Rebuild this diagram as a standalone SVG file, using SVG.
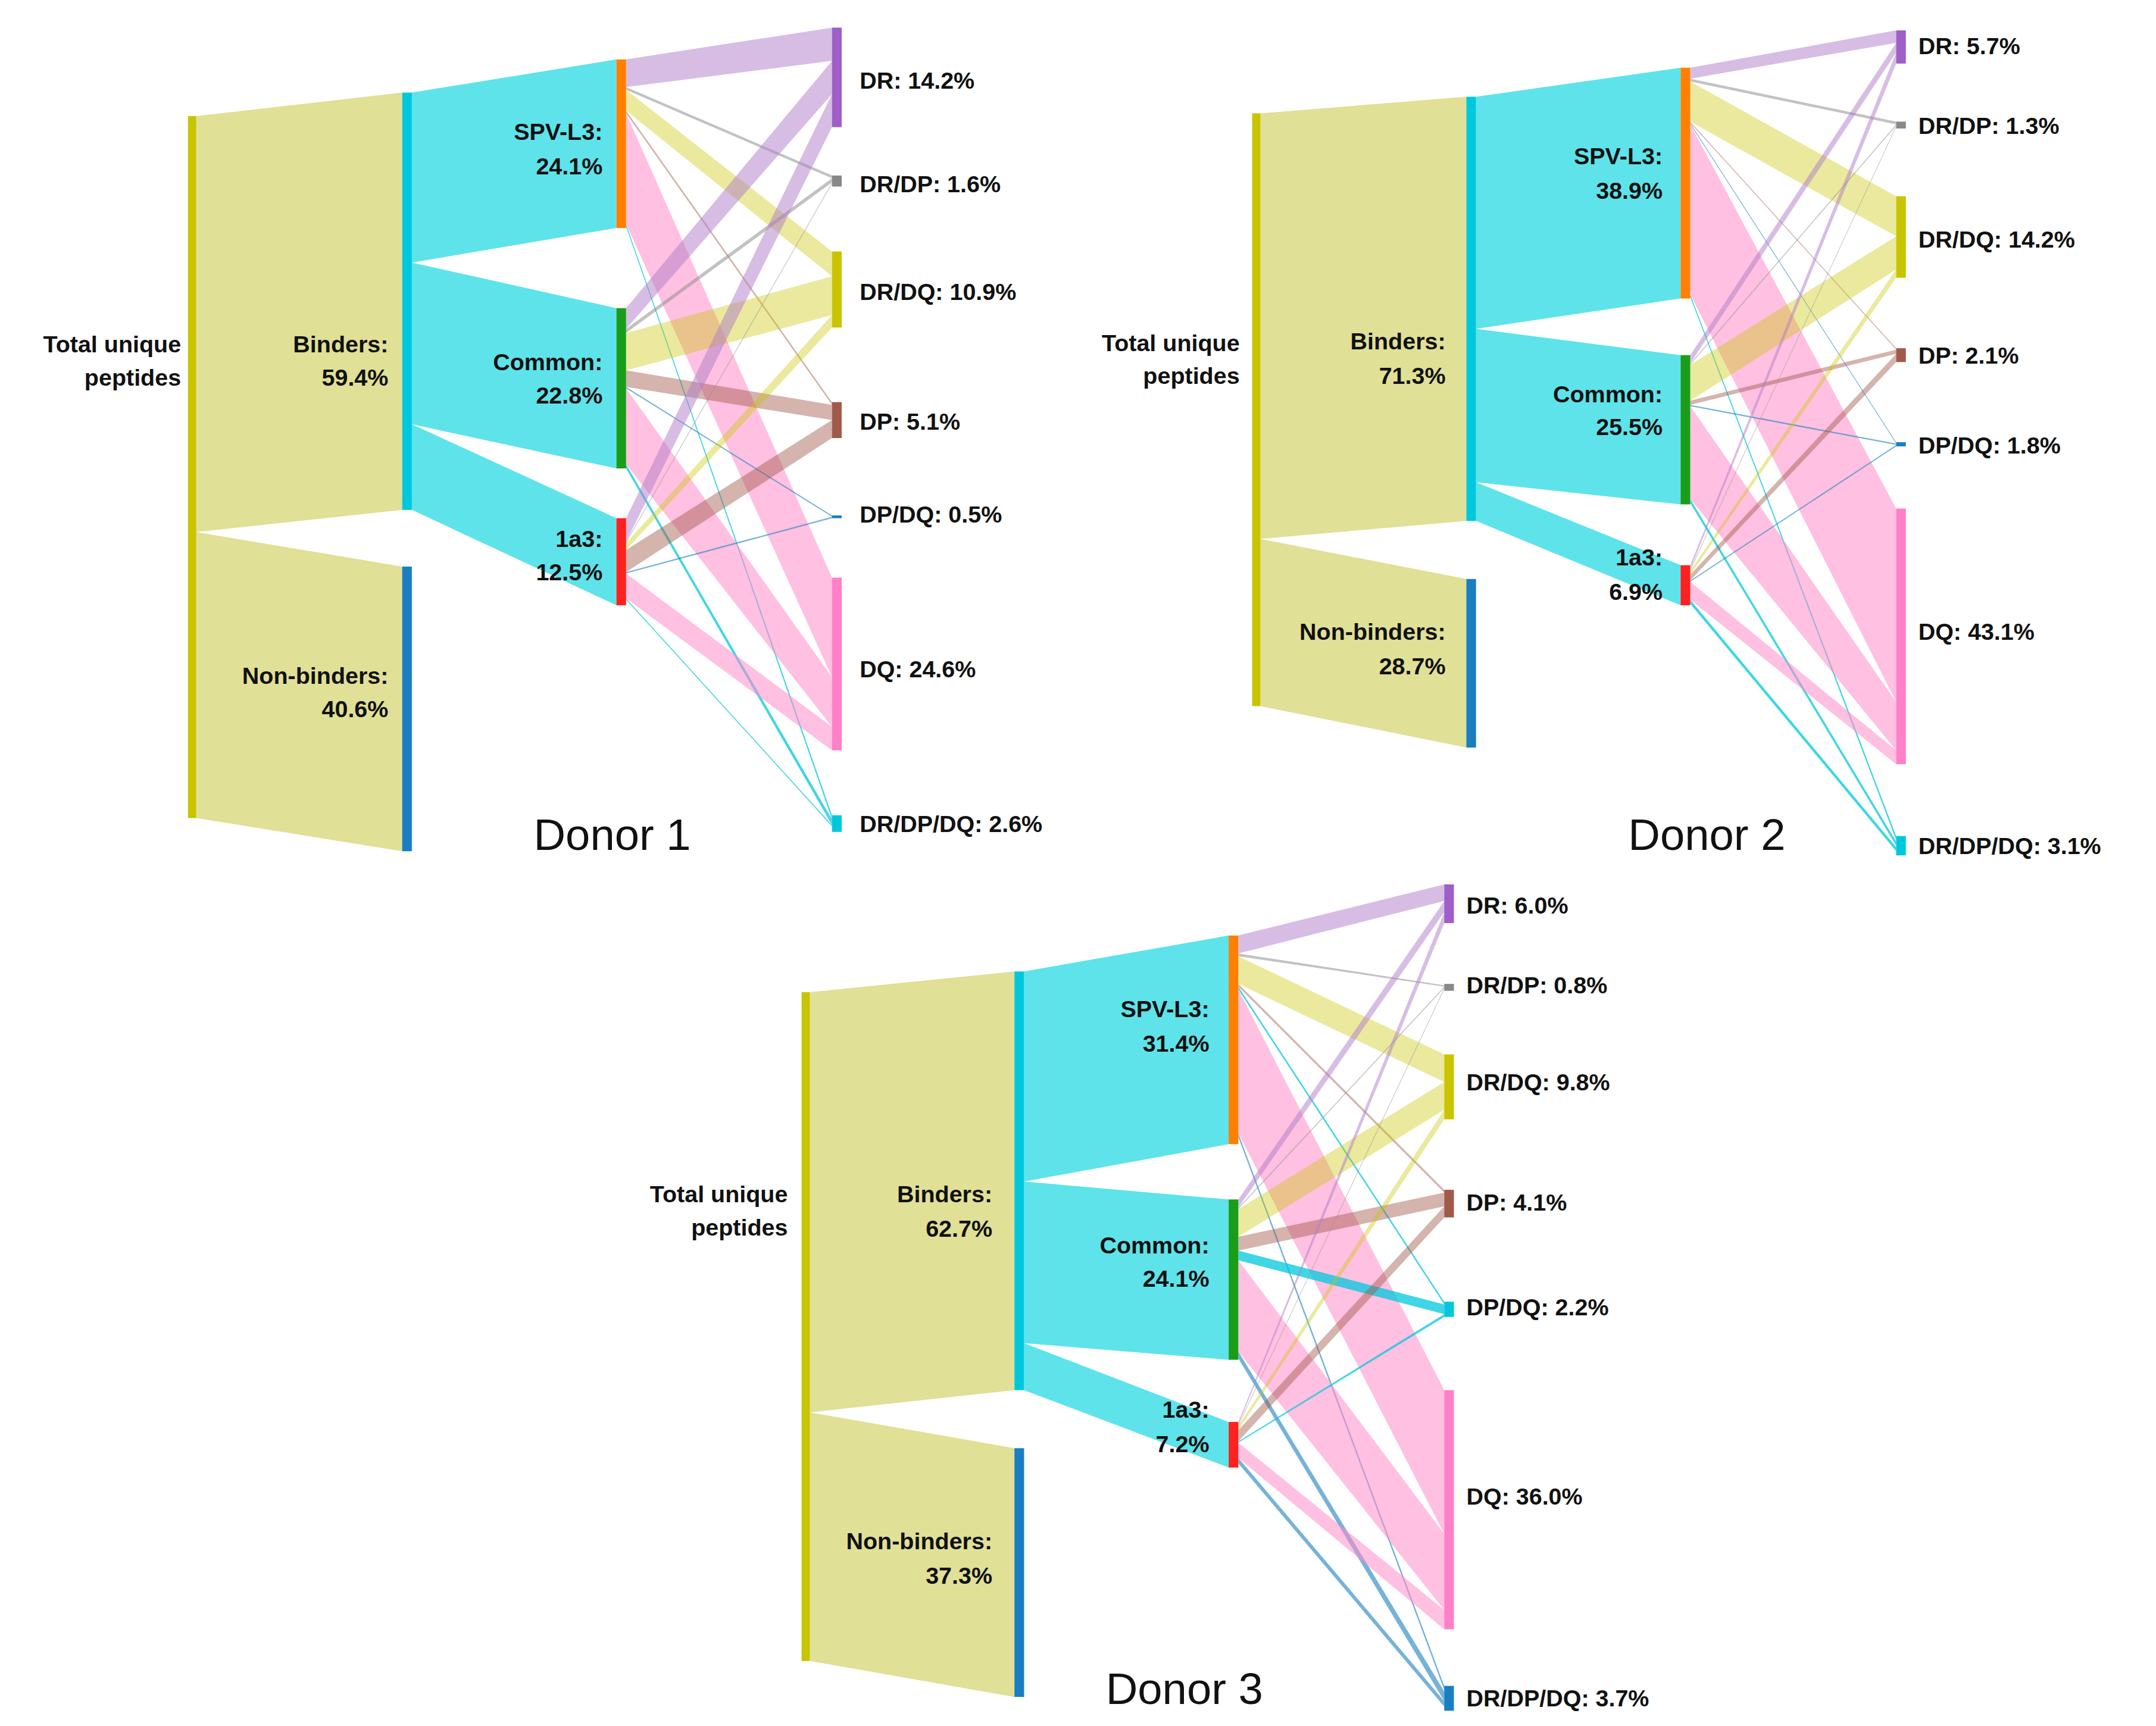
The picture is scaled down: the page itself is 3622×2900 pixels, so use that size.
<svg xmlns="http://www.w3.org/2000/svg" width="3622" height="2900" viewBox="0 0 3622 2900">
<style>
.bt{fill:#e0e096}.bc{fill:#5ee3ea}
.lr{fill:#b07cc8;opacity:.5}.lg{fill:#909090;opacity:.55}.lo{fill:#c8c400;opacity:.38}.lp{fill:#a0584a;opacity:.45}.lq{fill:#ff8cc8;opacity:.55}.lc{fill:#00c8dc;opacity:.75}.lb{fill:#1a7fc0;opacity:.6}
.t{font-family:"Liberation Sans",Arial,sans-serif;font-weight:bold;font-size:17px;fill:#111}
.e{text-anchor:end}
.ti{font-family:"Liberation Sans",Arial,sans-serif;font-size:32px;fill:#111;text-anchor:middle}
</style>
<rect width="3622" height="2900" fill="#fff"/>
<g transform="scale(2.3218)">
<g id="connectors">
<!-- Donor 1 -->
<polygon class="bt" points="142,84 291,67 291,369 142,385"/>
<polygon class="bt" points="142,385 291,410 291,616 142,592"/>
<polygon class="bc" points="298,67 446,43 446,165 298,190"/>
<polygon class="bc" points="298,190 446,223 446,339 298,307"/>
<polygon class="bc" points="298,307 446,375 446,438 298,369"/>
<polygon class="lr" points="453,43 602,20 602,44 453,63"/>
<polygon class="lg" points="453,63 602,127 602,129 453,65"/>
<polygon class="lo" points="453,65 602,182 602,200 453,80"/>
<polygon class="lp" points="453,80 602,291 602,293 453,82"/>
<polygon class="lq" points="453,82 602,418 602,490 453,162"/>
<polygon class="lc" points="453,162 602,590 602,593 453,164"/>
<polygon class="lr" points="453,223 602,44 602,68 453,238"/>
<polygon class="lg" points="453,238 602,129 602,132 453,241"/>
<polygon class="lo" points="453,241 602,200 602,228 453,268"/>
<polygon class="lp" points="453,268 602,293 602,304 453,280"/>
<polygon class="lb" points="453,280 602,373 602,374 453,281"/>
<polygon class="lq" points="453,281 602,490 602,526 453,336"/>
<polygon class="lc" points="453,336 602,593 602,597 453,339"/>
<polygon class="lr" points="453,375 602,68 602,92 453,392"/>
<polygon class="lg" points="453,392 602,132 602,133 453,393"/>
<polygon class="lo" points="453,393 602,228 602,237 453,398"/>
<polygon class="lp" points="453,398 602,304 602,317 453,414"/>
<polygon class="lb" points="453,414 602,374 602,375 453,415"/>
<polygon class="lq" points="453,415 602,526 602,543 453,433"/>
<polygon class="lc" points="453,433 602,597 602,598 453,434"/>
<!-- Donor 2 -->
<polygon class="bt" points="912,82 1061,70 1061,377 912,390"/>
<polygon class="bt" points="912,390 1061,419 1061,541 912,511"/>
<polygon class="bc" points="1068,70 1216,49 1216,216 1068,238"/>
<polygon class="bc" points="1068,238 1216,257 1216,365 1068,349"/>
<polygon class="bc" points="1068,349 1216,409 1216,438 1068,377"/>
<polygon class="lr" points="1223,49 1372,22 1372,31 1223,57"/>
<polygon class="lg" points="1223,57 1372,88 1372,90 1223,59"/>
<polygon class="lo" points="1223,59 1372,142 1372,171 1223,88"/>
<polygon class="lp" points="1223,88 1372,252 1372,253 1223,89"/>
<polygon class="lb" points="1223,89 1372,320 1372,321 1223,90"/>
<polygon class="lq" points="1223,90 1372,368 1372,508 1223,213"/>
<polygon class="lc" points="1223,213 1372,605 1372,608 1223,215"/>
<polygon class="lr" points="1223,257 1372,31 1372,38 1223,263"/>
<polygon class="lg" points="1223,263 1372,90 1372,91 1223,264"/>
<polygon class="lo" points="1223,264 1372,171 1372,195 1223,290"/>
<polygon class="lp" points="1223,290 1372,253 1372,256 1223,293"/>
<polygon class="lb" points="1223,293 1372,321 1372,322 1223,294"/>
<polygon class="lq" points="1223,294 1372,508 1372,543 1223,361"/>
<polygon class="lc" points="1223,361 1372,609 1372,612 1223,364"/>
<polygon class="lr" points="1223,409 1372,38 1372,46 1223,412"/>
<polygon class="lg" points="1223,412 1372,91 1372,92 1223,413"/>
<polygon class="lo" points="1223,413 1372,195 1372,201 1223,416"/>
<polygon class="lp" points="1223,416 1372,256 1372,262 1223,420"/>
<polygon class="lb" points="1223,420 1372,322 1372,323 1223,421"/>
<polygon class="lq" points="1223,421 1372,543 1372,553 1223,434"/>
<polygon class="lc" points="1223,434 1372,613 1372,616 1223,437"/>
<!-- Donor 3 -->
<polygon class="bt" points="586,718 734,703 734,1006 586,1022"/>
<polygon class="bt" points="586,1022 734,1048 734,1228 586,1202"/>
<polygon class="bc" points="741,703 889,677 889,828 741,855"/>
<polygon class="bc" points="741,855 889,868 889,984 741,972"/>
<polygon class="bc" points="741,972 889,1029 889,1062 741,1006"/>
<polygon class="lr" points="896,677 1045,640 1045,652 896,690"/>
<polygon class="lg" points="896,690 1045,713 1045,714 896,692"/>
<polygon class="lo" points="896,692 1045,763 1045,783 896,712"/>
<polygon class="lp" points="896,712 1045,861 1045,863 896,714"/>
<polygon class="lc" points="896,714 1045,942 1045,944 896,716"/>
<polygon class="lq" points="896,716 1045,1006 1045,1110 896,820"/>
<polygon class="lb" points="896,820 1045,1220 1045,1223 896,823"/>
<polygon class="lr" points="896,868 1045,652 1045,660 896,874"/>
<polygon class="lg" points="896,874 1045,714 1045,715 896,875"/>
<polygon class="lo" points="896,875 1045,783 1045,803 896,895"/>
<polygon class="lp" points="896,895 1045,863 1045,873 896,905"/>
<polygon class="lc" points="896,905 1045,944 1045,951 896,912"/>
<polygon class="lq" points="896,912 1045,1110 1045,1165 896,978"/>
<polygon class="lb" points="896,978 1045,1224 1045,1231 896,983"/>
<polygon class="lr" points="896,1029 1045,660 1045,668 896,1031"/>
<polygon class="lg" points="896,1031 1045,715 1045,716 896,1032"/>
<polygon class="lo" points="896,1032 1045,803 1045,810 896,1035"/>
<polygon class="lp" points="896,1035 1045,873 1045,881 896,1043"/>
<polygon class="lc" points="896,1043 1045,951 1045,953 896,1044"/>
<polygon class="lq" points="896,1044 1045,1165 1045,1179 896,1055"/>
<polygon class="lb" points="896,1055 1045,1231 1045,1235 896,1059"/>
</g>
<!-- Donor 1 nodes -->
<g id="d1-total"><rect x="136" y="84" width="6" height="508" fill="#c8c400"/><text class="t e" x="131" y="255">Total unique</text><text class="t e" x="131" y="279">peptides</text></g>
<g id="d1-binders"><rect x="291" y="67" width="7" height="302" fill="#00c8dc"/><text class="t e" x="281" y="255">Binders:</text><text class="t e" x="281" y="279">59.4%</text></g>
<g id="d1-nonbinders"><rect x="291" y="410" width="7" height="206" fill="#1a7fc0"/><text class="t e" x="281" y="495">Non-binders:</text><text class="t e" x="281" y="519">40.6%</text></g>
<g id="d1-spv"><rect x="446" y="43" width="7" height="122" fill="#ff8000"/><text class="t e" x="436" y="101">SPV-L3:</text><text class="t e" x="436" y="126">24.1%</text></g>
<g id="d1-common"><rect x="446" y="223" width="7" height="116" fill="#1a9e1a"/><text class="t e" x="436" y="268">Common:</text><text class="t e" x="436" y="292">22.8%</text></g>
<g id="d1-1a3"><rect x="446" y="375" width="7" height="63" fill="#ff2020"/><text class="t e" x="436" y="396">1a3:</text><text class="t e" x="436" y="420">12.5%</text></g>
<g id="d1-dr"><rect x="602" y="20" width="7" height="72" fill="#9e5fc8"/><text class="t" x="622" y="64">DR: 14.2%</text></g>
<g id="d1-drdp"><rect x="602" y="127" width="7" height="8" fill="#888"/><text class="t" x="622" y="139">DR/DP: 1.6%</text></g>
<g id="d1-drdq"><rect x="602" y="182" width="7" height="55" fill="#c8c400"/><text class="t" x="622" y="217">DR/DQ: 10.9%</text></g>
<g id="d1-dp"><rect x="602" y="291" width="7" height="26" fill="#a05a4a"/><text class="t" x="622" y="311">DP: 5.1%</text></g>
<g id="d1-dpdq"><rect x="602" y="373" width="7" height="2" fill="#1a7fc0"/><text class="t" x="622" y="378">DP/DQ: 0.5%</text></g>
<g id="d1-dq"><rect x="602" y="418" width="7" height="125" fill="#ff7fc8"/><text class="t" x="622" y="490">DQ: 24.6%</text></g>
<g id="d1-drdpdq"><rect x="602" y="590" width="7" height="12" fill="#00c8dc"/><text class="t" x="622" y="602">DR/DP/DQ: 2.6%</text></g>
<text class="ti" x="443" y="615">Donor 1</text>
<!-- Donor 2 nodes -->
<g id="d2-total"><rect x="906" y="82" width="6" height="429" fill="#c8c400"/><text class="t e" x="897" y="254">Total unique</text><text class="t e" x="897" y="278">peptides</text></g>
<g id="d2-binders"><rect x="1061" y="70" width="7" height="307" fill="#00c8dc"/><text class="t e" x="1046" y="253">Binders:</text><text class="t e" x="1046" y="278">71.3%</text></g>
<g id="d2-nonbinders"><rect x="1061" y="419" width="7" height="122" fill="#1a7fc0"/><text class="t e" x="1046" y="463">Non-binders:</text><text class="t e" x="1046" y="488">28.7%</text></g>
<g id="d2-spv"><rect x="1216" y="49" width="7" height="167" fill="#ff8000"/><text class="t e" x="1203" y="119">SPV-L3:</text><text class="t e" x="1203" y="144">38.9%</text></g>
<g id="d2-common"><rect x="1216" y="257" width="7" height="108" fill="#1a9e1a"/><text class="t e" x="1203" y="291">Common:</text><text class="t e" x="1203" y="315">25.5%</text></g>
<g id="d2-1a3"><rect x="1216" y="409" width="7" height="29" fill="#ff2020"/><text class="t e" x="1203" y="409">1a3:</text><text class="t e" x="1203" y="434">6.9%</text></g>
<g id="d2-dr"><rect x="1372" y="22" width="7" height="24" fill="#9e5fc8"/><text class="t" x="1388" y="39">DR: 5.7%</text></g>
<g id="d2-drdp"><rect x="1372" y="88" width="7" height="5" fill="#888"/><text class="t" x="1388" y="97">DR/DP: 1.3%</text></g>
<g id="d2-drdq"><rect x="1372" y="142" width="7" height="59" fill="#c8c400"/><text class="t" x="1388" y="179">DR/DQ: 14.2%</text></g>
<g id="d2-dp"><rect x="1372" y="252" width="7" height="10" fill="#a05a4a"/><text class="t" x="1388" y="263">DP: 2.1%</text></g>
<g id="d2-dpdq"><rect x="1372" y="320" width="7" height="3" fill="#1a7fc0"/><text class="t" x="1388" y="328">DP/DQ: 1.8%</text></g>
<g id="d2-dq"><rect x="1372" y="368" width="7" height="185" fill="#ff7fc8"/><text class="t" x="1388" y="463">DQ: 43.1%</text></g>
<g id="d2-drdpdq"><rect x="1372" y="605" width="7" height="14" fill="#00c8dc"/><text class="t" x="1388" y="618">DR/DP/DQ: 3.1%</text></g>
<text class="ti" x="1235" y="615">Donor 2</text>
<!-- Donor 3 nodes -->
<g id="d3-total"><rect x="580" y="718" width="6" height="484" fill="#c8c400"/><text class="t e" x="570" y="870">Total unique</text><text class="t e" x="570" y="894">peptides</text></g>
<g id="d3-binders"><rect x="734" y="703" width="7" height="303" fill="#00c8dc"/><text class="t e" x="718" y="870">Binders:</text><text class="t e" x="718" y="895">62.7%</text></g>
<g id="d3-nonbinders"><rect x="734" y="1048" width="7" height="180" fill="#1a7fc0"/><text class="t e" x="718" y="1121">Non-binders:</text><text class="t e" x="718" y="1146">37.3%</text></g>
<g id="d3-spv"><rect x="889" y="677" width="7" height="151" fill="#ff8000"/><text class="t e" x="875" y="736">SPV-L3:</text><text class="t e" x="875" y="761">31.4%</text></g>
<g id="d3-common"><rect x="889" y="868" width="7" height="116" fill="#1a9e1a"/><text class="t e" x="875" y="907">Common:</text><text class="t e" x="875" y="931">24.1%</text></g>
<g id="d3-1a3"><rect x="889" y="1029" width="7" height="33" fill="#ff2020"/><text class="t e" x="875" y="1026">1a3:</text><text class="t e" x="875" y="1051">7.2%</text></g>
<g id="d3-dr"><rect x="1045" y="640" width="7" height="28" fill="#9e5fc8"/><text class="t" x="1061" y="661">DR: 6.0%</text></g>
<g id="d3-drdp"><rect x="1045" y="712" width="7" height="5" fill="#888"/><text class="t" x="1061" y="719">DR/DP: 0.8%</text></g>
<g id="d3-drdq"><rect x="1045" y="763" width="7" height="47" fill="#c8c400"/><text class="t" x="1061" y="789">DR/DQ: 9.8%</text></g>
<g id="d3-dp"><rect x="1045" y="861" width="7" height="20" fill="#a05a4a"/><text class="t" x="1061" y="876">DP: 4.1%</text></g>
<g id="d3-dpdq"><rect x="1045" y="942" width="7" height="11" fill="#00c8dc"/><text class="t" x="1061" y="952">DP/DQ: 2.2%</text></g>
<g id="d3-dq"><rect x="1045" y="1006" width="7" height="173" fill="#ff7fc8"/><text class="t" x="1061" y="1089">DQ: 36.0%</text></g>
<g id="d3-drdpdq"><rect x="1045" y="1220" width="7" height="18" fill="#1a7fc0"/><text class="t" x="1061" y="1235">DR/DP/DQ: 3.7%</text></g>
<text class="ti" x="857" y="1233">Donor 3</text>
</g>
</svg>
